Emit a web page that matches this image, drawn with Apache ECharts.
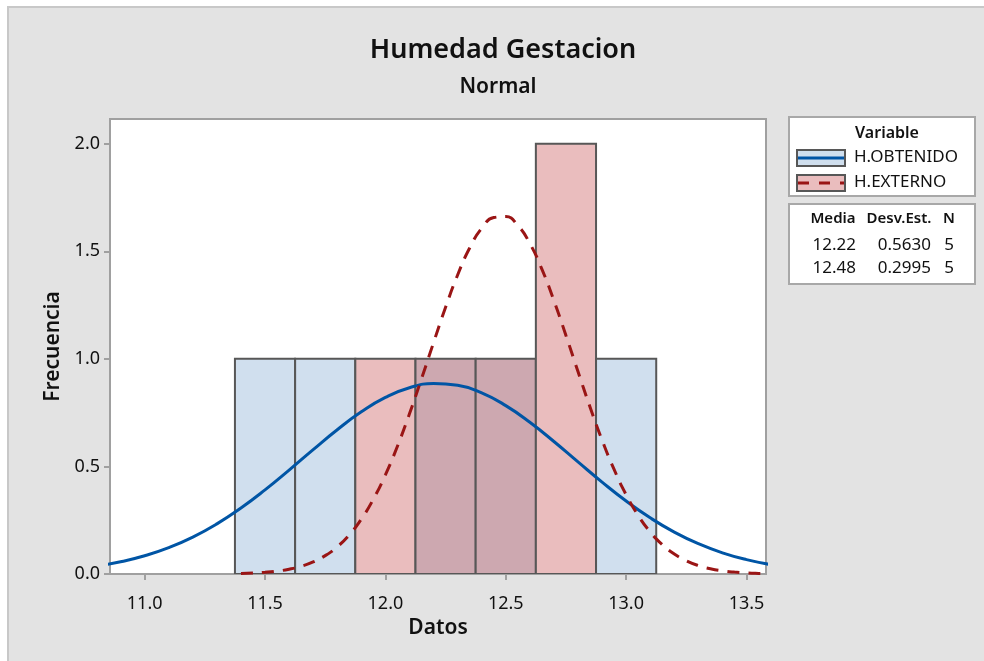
<!DOCTYPE html>
<html>
<head>
<meta charset="utf-8">
<script src="https://cdn.jsdelivr.net/npm/echarts@6/dist/echarts.min.js"></script>
<style>html,body{margin:0;padding:0;background:#fff}#c{width:984px;height:661px}</style>
</head>
<body>
<div id="c"></div>
<script>
// ---- data ----
var binCenters = [11.5, 11.75, 12.0, 12.25, 12.5, 12.75, 13.0];
var binWidth = 0.25;
var obtenidoCounts = [1, 1, 0, 1, 1, 0, 1];
var externoCounts = [0, 0, 1, 1, 1, 2, 0];

var obtenidoCurveX = [10.8,10.9,11.0,11.1,11.2,11.3,11.4,11.5,11.6,11.7,11.8,11.9,12.0,12.1,12.2,12.3,12.4,12.5,12.6,12.7,12.8,12.9,13.0,13.1,13.2,13.3,13.4,13.5,13.6];
var obtenidoCurveY = [0.0368,0.0567,0.0846,0.1224,0.1716,0.2331,0.3067,0.3910,0.4830,0.5782,0.6707,0.7537,0.8207,0.8659,0.8852,0.8769,0.8417,0.7828,0.7054,0.6159,0.5210,0.4272,0.3392,0.2611,0.1947,0.1407,0.0985,0.0668,0.0439];

var externoCurveX = [11.4,11.45,11.5,11.55,11.6,11.65,11.7,11.75,11.8,11.85,11.9,11.95,12.0,12.05,12.1,12.15,12.2,12.25,12.3,12.35,12.4,12.45,12.5,12.55,12.6,12.65,12.7,12.75,12.8,12.85,12.9,12.95,13.0,13.05,13.1,13.15,13.2,13.25,13.3,13.35,13.4,13.45,13.5,13.55,13.6];
var externoCurveY = [0.0025,0.0045,0.0079,0.0134,0.0222,0.0358,0.0561,0.0854,0.1265,0.1822,0.2553,0.3479,0.4609,0.5940,0.7445,0.9074,1.0755,1.2398,1.3899,1.5153,1.6067,1.6567,1.6613,1.6201,1.5366,1.4173,1.2713,1.1090,0.9409,0.7762,0.6228,0.4860,0.3688,0.2722,0.1954,0.1364,0.0926,0.0611,0.0392,0.0245,0.0149,0.0088,0.0050,0.0028,0.0015];

var xTicks = [11.0, 11.5, 12.0, 12.5, 13.0, 13.5];
var yTicks = [0.0, 0.5, 1.0, 1.5, 2.0];

var seriesNames = ['H.OBTENIDO', 'H.EXTERNO'];
var statsHeader = ['Media', 'Desv.Est.', 'N'];
var statsMedia = ['12.22', '12.48'];
var statsDesv = ['0.5630', '0.2995'];
var statsN = ['5', '5'];

// ---- styles ----
var BLUE_FILL = '#D0DFEE', RED_FILL = '#EABDBE', OVER_FILL = '#CDA8B0';
var EDGE = '#575757';
var BLUE_LINE = '#0055A5', RED_LINE = '#9A1515';
var FONT = 'Noto Sans';

var histData = binCenters.map(function (c, i) {
  return [c, obtenidoCounts[i], externoCounts[i]];
});

function renderBin(params, api) {
  var c = api.value(0), b = api.value(1), r = api.value(2);
  var x0 = c - binWidth / 2, x1 = c + binWidth / 2;
  var children = [];
  function rect(h0, h1, fill) {
    var p0 = api.coord([x0, h1]);
    var p1 = api.coord([x1, h0]);
    children.push({
      type: 'rect',
      shape: { x: p0[0], y: p0[1], width: p1[0] - p0[0], height: p1[1] - p0[1] },
      style: { fill: fill, stroke: EDGE, lineWidth: 2 }
    });
  }
  var ov = Math.min(b, r);
  if (b > ov) rect(ov, b, BLUE_FILL);
  if (r > ov) rect(ov, r, RED_FILL);
  if (ov > 0) rect(0, ov, OVER_FILL);
  return { type: 'group', children: children };
}

var chart = echarts.init(document.getElementById('c'), null, { renderer: 'canvas' });

var graphics = [
  { type: 'rect', z: -10, shape: { x: 8, y: 7, width: 980, height: 660 },
    style: { fill: '#E3E3E3', stroke: '#C8C8C8', lineWidth: 2 }, silent: true },
  // legend box
  { type: 'rect', shape: { x: 789, y: 117, width: 186, height: 79 },
    style: { fill: '#fff', stroke: '#A8A8A8', lineWidth: 2 } },
  { type: 'text', style: { text: 'Variable', x: 887, y: 133, align: 'center', verticalAlign: 'middle',
    font: '600 16px "' + FONT + '"', fill: '#111' } },
  { type: 'rect', shape: { x: 797, y: 150, width: 48, height: 16 },
    style: { fill: BLUE_FILL, stroke: EDGE, lineWidth: 2 } },
  { type: 'line', shape: { x1: 798, y1: 158, x2: 844, y2: 158 },
    style: { stroke: BLUE_LINE, lineWidth: 3 } },
  { type: 'text', style: { text: seriesNames[0], x: 854, y: 157, verticalAlign: 'middle',
    font: '17px "' + FONT + '"', fill: '#111' } },
  { type: 'rect', shape: { x: 797, y: 175, width: 48, height: 16 },
    style: { fill: RED_FILL, stroke: EDGE, lineWidth: 2 } },
  { type: 'line', shape: { x1: 798, y1: 183, x2: 844, y2: 183 },
    style: { stroke: RED_LINE, lineWidth: 3, lineDash: [11, 10] } },
  { type: 'text', style: { text: seriesNames[1], x: 854, y: 182, verticalAlign: 'middle',
    font: '17px "' + FONT + '"', fill: '#111' } },
  // stats box
  { type: 'rect', shape: { x: 789, y: 204, width: 186, height: 80 },
    style: { fill: '#fff', stroke: '#A8A8A8', lineWidth: 2 } },
  { type: 'text', style: { text: statsHeader[0], x: 833, y: 219, align: 'center', verticalAlign: 'middle',
    font: '600 15px "' + FONT + '"', fill: '#111' } },
  { type: 'text', style: { text: statsHeader[1], x: 899, y: 219, align: 'center', verticalAlign: 'middle',
    font: '600 15px "' + FONT + '"', fill: '#111' } },
  { type: 'text', style: { text: statsHeader[2], x: 949, y: 219, align: 'center', verticalAlign: 'middle',
    font: '600 15px "' + FONT + '"', fill: '#111' } }
];
for (var i = 0; i < 2; i++) {
  var yy = 245 + i * 23;
  graphics.push({ type: 'text', style: { text: statsMedia[i], x: 856, y: yy, align: 'right', verticalAlign: 'middle',
    font: '17px "' + FONT + '"', fill: '#111' } });
  graphics.push({ type: 'text', style: { text: statsDesv[i], x: 931, y: yy, align: 'right', verticalAlign: 'middle',
    font: '17px "' + FONT + '"', fill: '#111' } });
  graphics.push({ type: 'text', style: { text: statsN[i], x: 949, y: yy, align: 'center', verticalAlign: 'middle',
    font: '17px "' + FONT + '"', fill: '#111' } });
}

chart.setOption({
  backgroundColor: '#fff',
  animation: false,
  title: [
    { text: 'Humedad Gestacion', left: 498, top: 32, textAlign: 'center',
      textStyle: { fontFamily: FONT, fontWeight: 600, fontSize: 27, color: '#111' } },
    { text: 'Normal', left: 493, top: 72, textAlign: 'center',
      textStyle: { fontFamily: FONT, fontWeight: 600, fontSize: 21, color: '#111' } }
  ],
  graphic: graphics,
  grid: { left: 110, top: 119, right: 218, bottom: 87, show: true,
    backgroundColor: '#fff', borderColor: '#A0A0A0', borderWidth: 2 },
  xAxis: {
    type: 'value', min: 10.856, max: 13.581,
    name: 'Datos', nameLocation: 'middle', nameGap: 44,
    nameTextStyle: { fontFamily: FONT, fontWeight: 600, fontSize: 21, color: '#111' },
    axisLine: { show: true, onZero: false, lineStyle: { color: '#A0A0A0', width: 2 } },
    axisTick: { show: true, length: 6, customValues: xTicks, lineStyle: { color: '#A0A0A0', width: 2 } },
    axisLabel: { customValues: xTicks, margin: 21, fontFamily: FONT, fontSize: 18, color: '#111',
      formatter: function (v) { return v.toFixed(1); } },
    splitLine: { show: false }
  },
  yAxis: {
    type: 'value', min: 0, max: 2.115,
    name: 'Frecuencia', nameLocation: 'middle', nameGap: 46, nameRotate: 90,
    nameTextStyle: { fontFamily: FONT, fontWeight: 600, fontSize: 21, color: '#111' },
    axisLine: { show: true, lineStyle: { color: '#A0A0A0', width: 2 } },
    axisTick: { show: true, length: 6, customValues: yTicks, lineStyle: { color: '#A0A0A0', width: 2 } },
    axisLabel: { customValues: yTicks, margin: 10, fontFamily: FONT, fontSize: 18, color: '#111',
      formatter: function (v) { return v.toFixed(1); } },
    splitLine: { show: false }
  },
  series: [
    { type: 'custom', name: 'hist', renderItem: renderBin, data: histData,
      encode: { x: 0, y: [1, 2] }, clip: true, z: 2 },
    { type: 'line', name: seriesNames[0], z: 3, smooth: true, showSymbol: false, clip: true,
      data: obtenidoCurveX.map(function (x, i) { return [x, obtenidoCurveY[i]]; }),
      lineStyle: { color: BLUE_LINE, width: 3 } },
    { type: 'line', name: seriesNames[1], z: 4, smooth: true, showSymbol: false, clip: true,
      data: externoCurveX.map(function (x, i) { return [x, externoCurveY[i]]; }),
      lineStyle: { color: RED_LINE, width: 3, type: [12, 9] } }
  ]
});
</script>
</body>
</html>
